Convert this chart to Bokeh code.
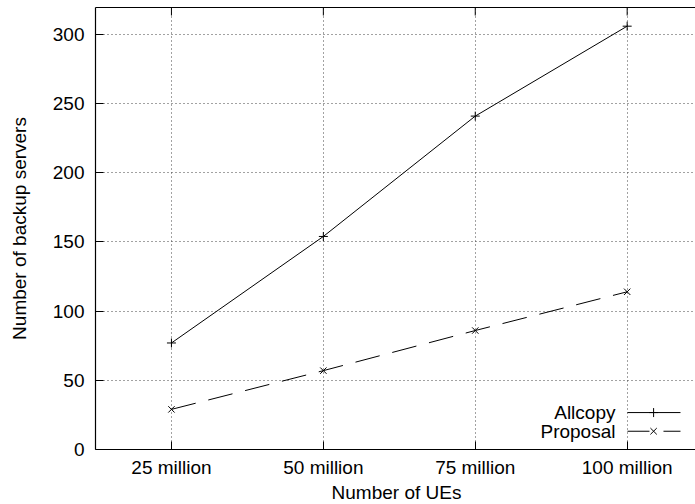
from bokeh.plotting import figure
from bokeh.models import Range1d, FixedTicker, LinearAxis, Label
from bokeh.embed import file_html
from bokeh.resources import INLINE

categories = ["25 million", "50 million", "75 million", "100 million"]
allcopy = [77, 154, 241, 306]
proposal = [29, 57, 86, 114]
y_ticks = [0, 50, 100, 150, 200, 250, 300]
series_names = ["Allcopy", "Proposal"]

xs = list(range(1, len(categories) + 1))
FONT = "Liberation Sans"
FS = "19px"
Y_MAX = 319.5

p = figure(frame_width=602, frame_height=442, output_backend="svg",
           toolbar_location=None,
           x_range=Range1d(0.5, 4.463), y_range=Range1d(0, Y_MAX),
           min_border_left=95, min_border_right=0, min_border_top=7,
           min_border_bottom=50, x_axis_label="Number of UEs",
           y_axis_label="Number of backup servers")
p.outline_line_color = None
p.background_fill_color = "white"

xt = FixedTicker(ticks=xs)
yt = FixedTicker(ticks=y_ticks)
p.xaxis.ticker = xt
p.yaxis.ticker = yt
p.xaxis.major_label_overrides = {i: c for i, c in zip(xs, categories)}

for ax in (p.xaxis[0], p.yaxis[0]):
    ax.major_tick_in = 8
    ax.major_tick_out = 0
    ax.minor_tick_line_color = None
    ax.axis_line_color = "black"
    ax.axis_line_width = 1.2
    ax.major_tick_line_color = "black"
    ax.major_label_text_font = FONT
    ax.major_label_text_font_size = FS
    ax.major_label_text_color = "black"
    ax.axis_label_text_font = FONT
    ax.axis_label_text_font_size = FS
    ax.axis_label_text_font_style = "normal"
    ax.axis_label_text_color = "black"
p.xaxis.major_label_standoff = 7
p.xaxis.axis_label_standoff = 1
p.yaxis.major_label_standoff = 11
p.yaxis.axis_label_standoff = 20

# top border (no labels) with inward ticks drawn at the category positions
top = LinearAxis(ticker=FixedTicker(ticks=[]), minor_tick_line_color=None,
                 major_tick_in=0, major_tick_out=0, major_label_standoff=0,
                 axis_line_color="black", axis_line_width=1.2)
p.add_layout(top, "above")
tick_len = 8 * Y_MAX / 442
p.segment(x0=xs, y0=[Y_MAX] * len(xs), x1=xs, y1=[Y_MAX - tick_len] * len(xs),
          line_color="black", line_width=1)

p.xgrid.ticker = xt
p.ygrid.ticker = yt
for g in (p.xgrid[0], p.ygrid[0]):
    g.grid_line_color = "#444444"
    g.grid_line_dash = "1 3"
    g.grid_line_width = 1

p.line(xs, allcopy, line_color="black", line_width=1)
p.scatter(xs, allcopy, marker="cross", size=9, line_color="black", line_width=1)
p.line(xs, proposal, line_color="black", line_width=1, line_dash="25 13")
p.scatter(xs, proposal, marker="x", size=9, line_color="black", line_width=1)

# legend (gnuplot style: text then sample, bottom right)
lx0, lx1, lxm = 4.002, 4.351, 4.174
rows = [26.7, 13.2]
dashes = ["solid", "22 14"]
markers = ["cross", "x"]
for name, ry, d, m in zip(series_names, rows, dashes, markers):
    p.add_layout(Label(x=3.923, y=ry, text=name, text_align="right",
                       text_baseline="middle", text_font=FONT,
                       text_font_size=FS, text_color="black"))
    p.line([lx0, lx1], [ry, ry], line_color="black", line_width=1, line_dash=d)
    p.scatter([lxm], [ry], marker=m, size=9, line_color="black", line_width=1)

open("out.html", "w").write(file_html(p, INLINE))
